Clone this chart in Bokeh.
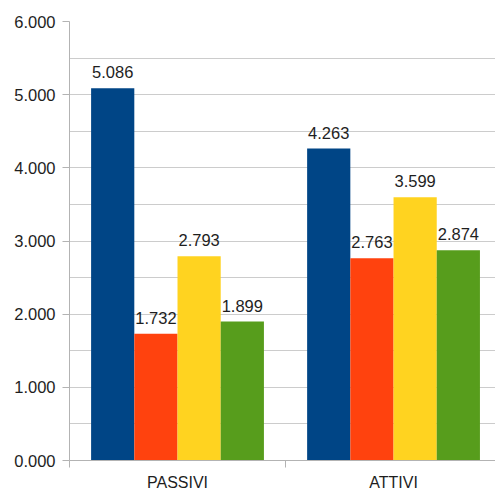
from bokeh.plotting import figure
from bokeh.models import Range1d, FixedTicker
from bokeh.core.properties import value
from bokeh.embed import file_html
from bokeh.resources import INLINE

# Data
categories = ["PASSIVI", "ATTIVI"]
serie_1 = [5086, 4263]
serie_2 = [1732, 2763]
serie_3 = [2793, 3599]
serie_4 = [1899, 2874]
y_ticks = [0, 1000, 2000, 3000, 4000, 5000, 6000]

series = [serie_1, serie_2, serie_3, serie_4]
colors = ["#004586", "#ff420e", "#ffd320", "#579d1c"]
offsets = [-0.3, -0.1, 0.1, 0.3]
bar_width = 0.2

FONT = "Liberation Sans"
TEXT_COLOR = "#1e1e1e"
AXIS_COLOR = "#b3b3b3"
GRID_COLOR = "#cccccc"


def it_format(v):
    return f"{v:,}".replace(",", ".")


p = figure(
    width=495, height=493,
    x_range=Range1d(0, 1.972), y_range=Range1d(0, 6000),
    output_backend="svg", toolbar_location=None,
    min_border_left=69, min_border_right=0,
    min_border_top=21, min_border_bottom=32,
)
p.outline_line_color = None
p.background_fill_color = "white"
p.border_fill_color = "white"

# bars and value labels
for vals, color, off in zip(series, colors, offsets):
    xs = [i + 0.5 + off for i in range(len(categories))]
    p.vbar(x=xs, top=vals, width=bar_width, bottom=0,
           fill_color=color, line_color=None)
    p.text(x=xs, y=vals, text=[it_format(v) for v in vals],
           text_align="center", text_baseline="alphabetic",
           y_offset=-16, text_font=value(FONT),
           text_font_size="16.5px", text_color=TEXT_COLOR)

# grid
p.xgrid.visible = False
p.ygrid.ticker = FixedTicker(ticks=list(range(0, 6001, 500)))
p.ygrid.grid_line_color = GRID_COLOR
p.ygrid.grid_line_width = 1

# y axis
ya = p.yaxis[0]
ya.ticker = FixedTicker(ticks=y_ticks)
ya.major_label_overrides = {t: f"{t / 1000:.3f}" for t in y_ticks}
ya.axis_line_color = AXIS_COLOR
ya.major_tick_line_color = AXIS_COLOR
ya.major_tick_in = 0
ya.major_tick_out = 7
ya.minor_tick_line_color = None
ya.major_label_standoff = 7
ya.major_label_text_font = FONT
ya.major_label_text_font_size = "16.5px"
ya.major_label_text_color = TEXT_COLOR

# x axis: labels at group centres, separator ticks between groups
xa = p.xaxis[0]
centres = [i + 0.5 for i in range(len(categories))]
xa.ticker = FixedTicker(ticks=centres,
                        minor_ticks=list(range(len(categories) + 1)))
xa.major_label_overrides = {c: name for c, name in zip(centres, categories)}
xa.axis_line_color = AXIS_COLOR
xa.major_tick_line_color = None
xa.major_tick_in = 0
xa.major_tick_out = 0
xa.minor_tick_line_color = AXIS_COLOR
xa.minor_tick_in = 0
xa.minor_tick_out = 7
xa.major_label_standoff = 6
xa.major_label_text_font = FONT
xa.major_label_text_font_size = "16px"
xa.major_label_text_color = TEXT_COLOR

open("out.html", "w").write(file_html(p, INLINE))
